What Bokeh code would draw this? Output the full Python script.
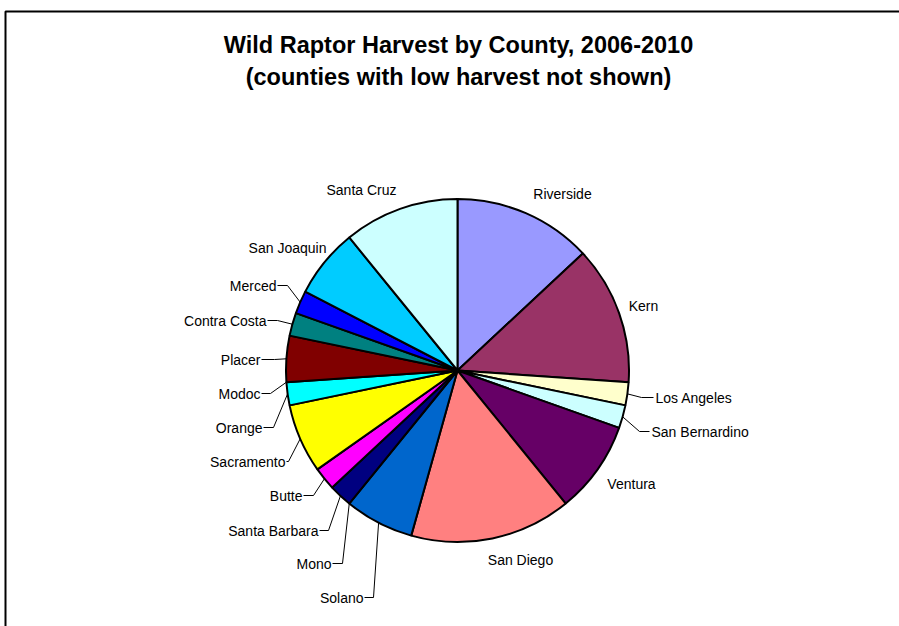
import math
from bokeh.plotting import figure
from bokeh.models import Range1d, ColumnDataSource
from bokeh.core.properties import value
from bokeh.embed import file_html
from bokeh.resources import INLINE

# ---------------- data ----------------
counties = ["Riverside", "Kern", "Los Angeles", "San Bernardino", "Ventura",
            "San Diego", "Solano", "Mono", "Santa Barbara", "Butte",
            "Sacramento", "Orange", "Modoc", "Placer", "Contra Costa",
            "Merced", "San Joaquin", "Santa Cruz"]
harvest = [18, 18, 3, 3, 12, 21, 9, 0, 3, 3, 9, 3, 0, 6, 3, 3, 9, 15]
colors = ["#9999FF", "#993366", "#FFFFCC", "#CCFFFF", "#660066", "#FF8080",
          "#0066CC", "#CCCCFF", "#000080", "#FF00FF", "#FFFF00", "#00FFFF",
          "#800080", "#800000", "#008080", "#0000FF", "#00CCFF", "#CCFFFF"]
title_lines = ["Wild Raptor Harvest by County, 2006-2010",
               "(counties with low harvest not shown)"]

# ---------------- layout (pixel coordinates, y down) ----------------
W, H = 899, 626
CX, CY, R = 457, 370, 171.5
FONT = "Liberation Sans"

# label: (text x, text y, align, elbow x or None)
label_layout = {
    "Riverside": (562, 193, "center", None),
    "Kern": (643, 305, "center", None),
    "Los Angeles": (655, 397, "left", 641),
    "San Bernardino": (651, 431, "left", 639),
    "Ventura": (631, 483, "center", None),
    "San Diego": (520, 559, "center", None),
    "Solano": (363, 597, "right", 373),
    "Mono": (331, 563, "right", 342),
    "Santa Barbara": (318, 530, "right", 328),
    "Butte": (302, 495, "right", 313),
    "Sacramento": (285, 461, "right", 288),
    "Orange": (262, 427, "right", 273),
    "Modoc": (260, 393, "right", 270),
    "Placer": (260, 359, "right", 274),
    "Contra Costa": (266, 320, "right", 277),
    "Merced": (276, 285, "right", 287),
    "San Joaquin": (287, 247, "center", None),
    "Santa Cruz": (361, 189, "center", None),
}


def dy(y):
    return H - y


total = float(sum(harvest))
bounds = [0.0]
for v in harvest:
    bounds.append(bounds[-1] + v)
theta = [b / total * 2 * math.pi for b in bounds]  # clockwise from 12 o'clock

# wedges (skip zero-valued slices)
ws = dict(start=[], end=[], color=[])
for i, v in enumerate(harvest):
    if v <= 0:
        continue
    ws["start"].append(math.pi / 2 - theta[i + 1])
    ws["end"].append(math.pi / 2 - theta[i])
    ws["color"].append(colors[i])
wsrc = ColumnDataSource(ws)

p = figure(width=W, height=H, output_backend="svg", toolbar_location=None,
           x_range=Range1d(0, W), y_range=Range1d(0, H),
           x_axis_location=None, y_axis_location=None,
           min_border=0, min_border_left=0, min_border_right=0,
           min_border_top=0, min_border_bottom=0)
p.grid.visible = False
p.outline_line_color = None
p.background_fill_color = "white"
p.border_fill_color = "white"

# chart-area frame (top and left edges visible)
p.line(x=[5, 5, W + 5], y=[dy(H + 5), dy(11), dy(11)], line_color="black",
       line_width=2)

p.wedge(x=CX, y=dy(CY), radius=R, start_angle="start", end_angle="end",
        fill_color="color", line_color="black", line_width=2, source=wsrc)

# labels and leader lines
for i, name in enumerate(counties):
    tx, ty, align, ex = label_layout[name]
    p.text(x=[tx], y=[dy(ty)], text=[name], text_align=align,
           text_baseline="middle", text_font=value(FONT),
           text_font_size="14px", text_color="black")
    if ex is not None:
        mid = (theta[i] + theta[i + 1]) / 2
        sx = CX + R * math.sin(mid)
        sy = CY - R * math.cos(mid)
        if align == "right":
            endx = tx + 1
        else:
            endx = tx - 2
        p.line(x=[sx, ex, endx], y=[dy(sy), dy(ty), dy(ty)],
               line_color="black", line_width=1)

# title
for k, line in enumerate(title_lines):
    p.text(x=[458], y=[dy(44 + 32 * k)], text=[line], text_align="center",
           text_baseline="middle", text_font=value(FONT),
           text_font_size="23.5px", text_font_style="bold", text_color="black")

open("out.html", "w").write(file_html(p, INLINE))
